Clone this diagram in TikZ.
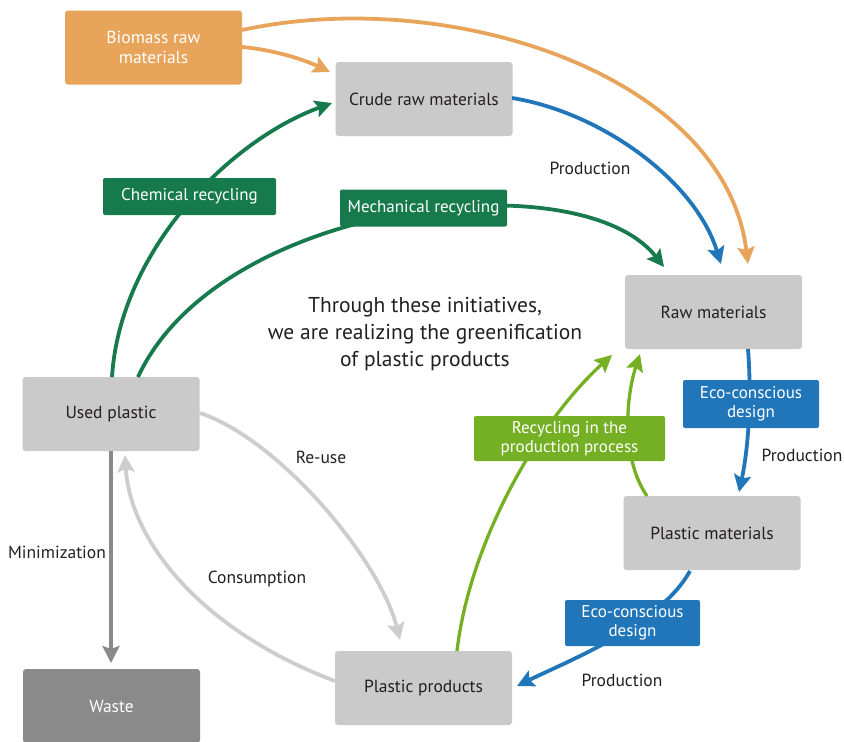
\documentclass[tikz,border=0pt]{standalone}
\usepackage{fontspec}
\setmainfont{PT Sans}
\usetikzlibrary{arrows.meta}
\definecolor{orng}{HTML}{E8A45B}
\definecolor{boxgray}{HTML}{C9CAC9}
\definecolor{dgreen}{HTML}{177A4D}
\definecolor{bblue}{HTML}{2176B9}
\definecolor{lgreen}{HTML}{74AF24}
\definecolor{wastegray}{HTML}{8A8A8A}
\definecolor{lgray}{HTML}{CDCDCD}
\definecolor{txt}{HTML}{231F20}
\tikzset{
  box/.style={rounded corners=3pt, minimum width=177pt, minimum height=74pt, inner sep=0pt, font=\fontsize{17.5}{20}\selectfont, text=txt, fill=boxgray, align=center},
  tag/.style={rounded corners=2pt, inner sep=0pt, font=\fontsize{17}{19}\selectfont, text=white, align=center},
  lbl/.style={font=\fontsize{17.5}{20}\selectfont, text=txt},
  arr/.style={line width=3.8pt, -{Stealth[length=17pt,width=17pt,inset=3pt]}},
}
\begin{document}
\begin{tikzpicture}[x=1pt,y=-1pt]
\useasboundingbox (0,0) rectangle (844,742);
% boxes
\node[box, fill=orng, text=white] (bio) at (153.5,47.5) {Biomass raw\\materials};
\node[box] (crude) at (424,99) {Crude raw materials};
\node[box] (raw) at (713.5,312) {Raw materials};
\node[box] (used) at (111,414) {Used plastic};
\node[box] (pmat) at (712,533) {Plastic materials};
\node[box] (pprod) at (423.5,688) {Plastic products};
\node[box, fill=wastegray, text=white] (waste) at (111.5,706) {Waste};
% connector coordinates
\coordinate (bioA) at (242,30);
\coordinate (bioB) at (242,47);
\coordinate (crudeTL) at (330,72);
\coordinate (crudeR) at (512,98);
\coordinate (crudeL) at (332,103);
\coordinate (rawT1) at (664,267);
\coordinate (rawT2) at (721,264);
\coordinate (rawT3) at (748,264);
\coordinate (rawB) at (748,349);
\coordinate (rawBL1) at (612,355);
\coordinate (rawBL2) at (640,354);
\coordinate (usedT1) at (112,377);
\coordinate (usedT2) at (138,377);
\coordinate (usedR) at (200,413);
\coordinate (usedB) at (111,451);
\coordinate (usedB2) at (125,455);
\coordinate (pmatT) at (739,492);
\coordinate (pmatT2) at (647,496);
\coordinate (pmatB) at (690,571);
\coordinate (pprodR) at (517,686);
\coordinate (pprodT) at (457,651);
\coordinate (pprodT2) at (400,640);
\coordinate (pprodL) at (335,681);
\coordinate (wasteT) at (111,663);
% arrows
\draw[arr, orng] (bioA) .. controls (450,-15) and (725,75) .. (rawT3);
\draw[arr, orng] (bioB) .. controls (275,50) and (305,60) .. (crudeTL);
\draw[arr, bblue] (crudeR) .. controls (600,112) and (695,180) .. (rawT2);
\draw[arr, dgreen] (usedT1) .. controls (120,250) and (230,140) .. (crudeL);
\draw[arr, dgreen] (usedT2) .. controls (220,200) and (580,160) .. (rawT1);
\draw[arr, bblue] (rawB) .. controls (752,400) and (748,450) .. (pmatT);
\draw[arr, bblue] (pmatB) .. controls (660,625) and (570,660) .. (pprodR);
\draw[arr, lgreen, line width=3.3pt] (pprodT) .. controls (470,540) and (540,420) .. (rawBL1);
\draw[arr, lgreen, line width=3.3pt] (pmatT2) .. controls (622,460) and (625,400) .. (rawBL2);
\draw[arr, lgray] (usedR) .. controls (280,440) and (380,560) .. (pprodT2);
\draw[arr, lgray] (pprodL) .. controls (200,630) and (130,540) .. (usedB2);
\draw[arr, wastegray] (usedB) -- (wasteT);
% tags
\node[tag, fill=dgreen, minimum width=173pt, minimum height=37pt] (chem) at (189.5,196.5) {Chemical recycling};
\node[tag, fill=dgreen, minimum width=167pt, minimum height=37pt] (mech) at (423.5,208) {Mechanical recycling};
\node[tag, fill=bblue, minimum width=136pt, minimum height=48pt] (eco1) at (751,404) {Eco-conscious\\design};
\node[tag, fill=lgreen, minimum width=191pt, minimum height=45pt] (recy) at (569.5,438.5) {Recycling in the\\production process};
\node[tag, fill=bblue, minimum width=135pt, minimum height=46pt] (eco2) at (632.5,623) {Eco-conscious\\design};
% labels
\node[lbl] (prod1) at (590,168) {Production};
\node[lbl] (prod2) at (802,455) {Production};
\node[lbl] (prod3) at (622,680) {Production};
\node[lbl] (reuse) at (321,457) {Re-use};
\node[lbl] (cons) at (257,579) {Consumption};
\node[lbl] (mini) at (57,552) {Minimization};
\node[font=\fontsize{21.5}{27}\selectfont, text=txt, align=center] (center) at (425,334) {Through these initiatives,\\we are realizing the greenification\\of plastic products};
\end{tikzpicture}
\end{document}
